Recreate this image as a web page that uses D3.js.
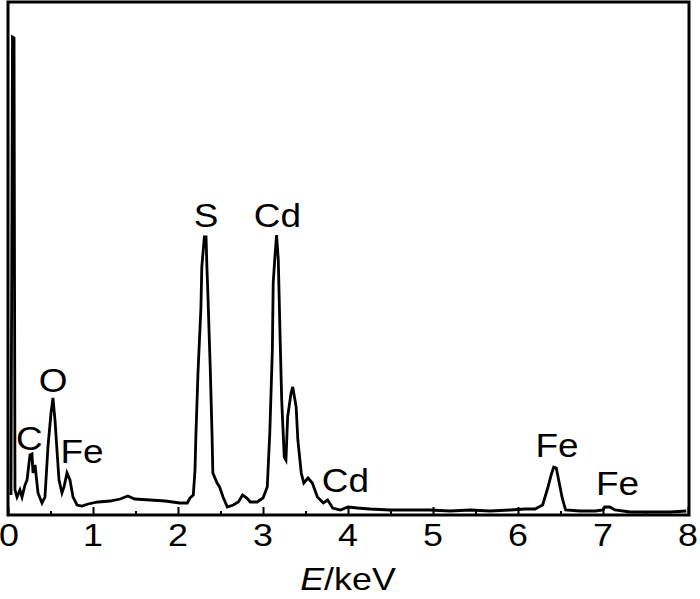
<!DOCTYPE html>
<html>
<head>
<meta charset="utf-8">
<script src="https://cdn.jsdelivr.net/npm/d3@7"></script>
<style>
  body { margin: 0; background: #fff; }
  text { font-family: "Liberation Sans", Arial, sans-serif; fill: #000; }
</style>
</head>
<body>
<div id="chart"></div>
<script>
// EDS spectrum, energy in keV and intensity (arb. units)
const energy = [0.035, 0.053, 0.071, 0.082, 0.106, 0.141, 0.165, 0.2, 0.224, 0.259, 0.282, 0.294, 0.318, 0.353,
  0.4, 0.435, 0.47, 0.506, 0.529, 0.553, 0.576, 0.6, 0.635, 0.659, 0.694, 0.729, 0.765, 0.812, 0.871, 0.941,
  1.06, 1.2, 1.32, 1.41, 1.49, 1.67, 1.85, 2.02, 2.11, 2.14, 2.18, 2.2, 2.21, 2.235, 2.27, 2.28, 2.31, 2.33,
  2.34, 2.35, 2.38, 2.4, 2.41, 2.46, 2.49, 2.53, 2.58, 2.65, 2.71, 2.76, 2.81, 2.85, 2.93, 3.0, 3.05, 3.08,
  3.11, 3.12, 3.14, 3.16, 3.18, 3.2, 3.22, 3.25, 3.27, 3.29, 3.33, 3.35, 3.39, 3.41, 3.45, 3.48, 3.53, 3.58,
  3.64, 3.71, 3.76, 3.82, 3.91, 4.0, 4.11, 4.26, 4.49, 4.73, 4.96, 5.2, 5.44, 5.67, 5.91, 6.08, 6.2, 6.29,
  6.35, 6.39, 6.42, 6.45, 6.49, 6.52, 6.56, 6.73, 6.91, 7.0, 7.02, 7.08, 7.14, 7.32, 7.55, 7.79, 7.98];
const counts = [20, 478, 477, 25, 18, 25, 18, 30, 35, 60, 61, 42, 50, 22,
  12, 18, 68, 102, 117, 95, 65, 35, 22, 28, 42, 35, 18, 10, 9, 11,
  13, 14, 16, 19, 16, 15, 14, 12, 12, 17, 20, 45, 78, 142, 208, 248, 278, 278,
  248, 225, 145, 82, 42, 32, 28, 18, 8, 10, 13, 20, 17, 13, 13, 17, 28, 82,
  165, 232, 258, 280, 255, 182, 115, 58, 55, 98, 122, 128, 108, 75, 42, 32, 37, 32,
  18, 12, 15, 7, 5, 8, 7, 6, 5, 5, 5, 4, 5, 4, 5, 6, 6, 10,
  27, 40, 48, 47, 30, 17, 5, 4, 4, 5, 8, 8, 5, 3, 3, 3, 4];

const peakNames = ['C', 'O', 'Fe', 'S', 'Cd', 'Cd', 'Fe', 'Fe'];
const peakEnergy = [0.25, 0.53, 0.87, 2.33, 3.17, 3.97, 6.46, 7.17];
const peakCount = [65, 123, 52, 288, 288, 23, 58, 20];

const xTicks = [0, 1, 2, 3, 4, 5, 6, 7, 8];

const W = 700, H = 599;
const mLeft = 8, mRight = 688, mTop = 2, mBottom = 515;

const svg = d3.select('#chart')
  .append('svg')
  .attr('width', W)
  .attr('height', H);

const x = d3.scaleLinear().domain([0, 8]).range([mLeft, mRight]);
const y = d3.scaleLinear().domain([0, 513]).range([mBottom, mTop]);

const pts = energy.map((e, i) => [e, counts[i]]);

const line = d3.line()
  .x(d => x(d[0]))
  .y(d => y(d[1]));

svg.append('path')
  .datum(pts)
  .attr('d', line)
  .attr('fill', 'none')
  .attr('stroke', '#000')
  .attr('stroke-width', 2.8)
  .attr('stroke-linejoin', 'miter');

// inward ticks, major and minor
const major = d3.axisBottom(x).tickValues(xTicks).tickSize(-8).tickFormat('');
const minor = d3.axisBottom(x).tickValues(d3.range(0.5, 8, 1)).tickSize(-4).tickFormat('');

svg.append('g')
  .attr('transform', `translate(0,${mBottom})`)
  .call(major)
  .call(g => g.select('.domain').remove())
  .selectAll('line').attr('stroke-width', 2);

svg.append('g')
  .attr('transform', `translate(0,${mBottom})`)
  .call(minor)
  .call(g => g.select('.domain').remove())
  .selectAll('line').attr('stroke-width', 2);

// frame
svg.append('rect')
  .attr('x', mLeft)
  .attr('y', mTop)
  .attr('width', mRight + 1 - mLeft)
  .attr('height', mBottom - mTop)
  .attr('fill', 'none')
  .attr('stroke', '#000')
  .attr('stroke-width', 3);

const stretch = 1.12;

svg.selectAll('.tlab')
  .data(xTicks)
  .enter()
  .append('text')
  .attr('class', 'tlab')
  .attr('transform', d => `translate(${x(d) + (d === 0 ? 1 : 0)},546) scale(${stretch},1)`)
  .attr('text-anchor', 'middle')
  .style('font-size', '32px')
  .text(d => d);

const xl = svg.append('text')
  .attr('transform', `translate(${(mLeft + mRight) / 2},590) scale(${stretch},1)`)
  .attr('text-anchor', 'middle')
  .style('font-size', '32px');
xl.append('tspan').style('font-style', 'italic').text('E');
xl.append('tspan').text('/keV');

svg.selectAll('.plab')
  .data(peakNames)
  .enter()
  .append('text')
  .attr('class', 'plab')
  .attr('transform', (d, i) => `translate(${x(peakEnergy[i])},${y(peakCount[i])}) scale(${stretch},1)`)
  .attr('text-anchor', 'middle')
  .style('font-size', '33px')
  .text(d => d);
</script>
</body>
</html>
